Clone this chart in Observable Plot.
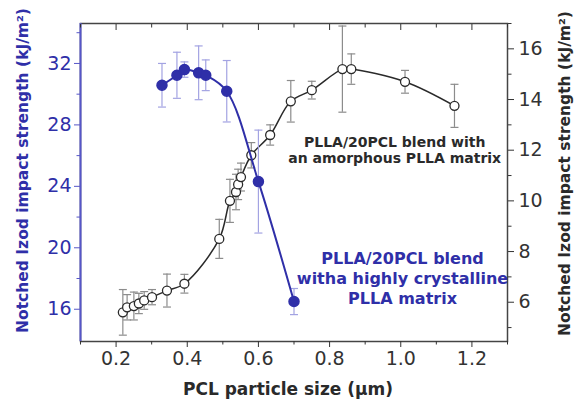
<!DOCTYPE html>
<html>
<head>
<meta charset="utf-8">
<script src="https://cdn.jsdelivr.net/npm/d3@7"></script>
<script src="https://cdn.jsdelivr.net/npm/@observablehq/plot@0.6"></script>
<style>
  html, body { margin: 0; padding: 0; background: #fff; }
  #chart { position: relative; width: 577px; height: 407px; }
  #chart svg { position: absolute; left: 0; top: 0; }
</style>
</head>
<body>
<div id="chart"></div>
<script>
// PLLA/20PCL blend, highly crystalline PLLA matrix (left axis)
const crystSize   = [0.329, 0.371, 0.392, 0.432, 0.452, 0.511, 0.600, 0.700];
const crystImpact = [30.58, 31.23, 31.6, 31.39, 31.23, 30.19, 24.31, 16.5];
const crystErr    = [1.42, 1.5, 0.5, 1.75, 1.0, 2.0, 3.35, 0.85];

// PLLA/20PCL blend, amorphous PLLA matrix (right axis)
const amorSize   = [0.219, 0.231, 0.250, 0.264, 0.279, 0.301, 0.343, 0.392, 0.490, 0.520, 0.537,
                    0.543, 0.551, 0.580, 0.633, 0.691, 0.750, 0.836, 0.861, 1.012, 1.151];
const amorImpact = [5.6, 5.8, 5.85, 5.95, 6.07, 6.2, 6.46, 6.73, 8.5, 10.0, 10.35,
                    10.65, 10.94, 11.8, 12.6, 13.93, 14.37, 15.2, 15.2, 14.7, 13.75];
const amorErr    = [0.9, 0.5, 0.55, 0.4, 0.35, 0.3, 0.65, 0.37, 0.77, 0.85, 0.7,
                    0.6, 0.55, 0.5, 0.4, 0.82, 0.35, 1.7, 0.6, 0.45, 0.85];

// Axis ticks
const xTicks     = [0.2, 0.4, 0.6, 0.8, 1.0, 1.2];
const xMinor     = [0.1, 0.3, 0.5, 0.7, 0.9, 1.1, 1.3];
const leftTicks  = [16, 20, 24, 28, 32];
const leftMinor  = [18, 22, 26, 30, 34];
const rightTicks = [6, 8, 10, 12, 14, 16];
const rightMinor = [5, 7, 9, 11, 13, 15, 17];

// Text
const xLabel = "PCL particle size (μm)";
const yLabel = "Notched Izod impact strength (kJ/m²)";
const amorNote = "PLLA/20PCL blend with\nan amorphous PLLA matrix";
const crystNote = "PLLA/20PCL blend\nwitha highly crystalline\nPLLA matrix";

const cryst = crystSize.map((x, i) => ({x, y: crystImpact[i], e: crystErr[i]}));
const amor = amorSize.map((x, i) => ({x, y: amorImpact[i], e: amorErr[i]}));

const W = 577, H = 407;
const frame = {marginLeft: 80, marginRight: 70, marginTop: 23, marginBottom: 66};
const xDomain = [0.1, 1.3];
const font = "'DejaVu Sans', sans-serif";
const blue = "#2f2fa8";
const blueAxis = "#5656c8";
const blueBar = "#a3a3e2";
const grayBar = "#8c8c8c";
const ink = "#2a2a2a";

// horizontal cap drawn at each end of an error bar
const cap = {draw(ctx) { ctx.moveTo(-4, 0); ctx.lineTo(4, 0); }};
const noText = () => "";

function errorBars(data, color) {
  return [
    Plot.ruleX(data, {x: "x", y1: d => d.y - d.e, y2: d => d.y + d.e, stroke: color, strokeWidth: 1.2}),
    Plot.dot(data, {x: "x", y: d => d.y - d.e, symbol: cap, stroke: color, strokeWidth: 1.2}),
    Plot.dot(data, {x: "x", y: d => d.y + d.e, symbol: cap, stroke: color, strokeWidth: 1.2})
  ];
}

const base = {
  width: W, height: H, ...frame,
  style: {background: "transparent", fontFamily: font, fontSize: "19px", overflow: "visible"},
  x: {domain: xDomain, axis: null}
};

// Amorphous-matrix series on the right-hand scale
const rightPlot = Plot.plot({
  ...base,
  y: {domain: [4.45, 17.0], axis: null},
  marks: [
    ...errorBars(amor, grayBar),
    Plot.line(amor, {x: "x", y: "y", curve: "catmull-rom", stroke: ink, strokeWidth: 1.5}),
    Plot.dot(amor, {x: "x", y: "y", r: 4.5, fill: "white", stroke: ink, strokeWidth: 1.3}),
    Plot.axisY(rightTicks, {anchor: "right", tickSize: 6, tickPadding: 5, color: "#333", fontSize: 19, label: null}),
    Plot.axisY(rightMinor, {anchor: "right", tickSize: 3.5, tickFormat: noText, color: "#333", label: null}),
    Plot.text([amorNote], {x: [0.983], y: [12.0], fontSize: 14, fontWeight: "bold", fill: ink, lineHeight: 1.15}),
    Plot.text([yLabel], {frameAnchor: "right", textAnchor: "middle", lineAnchor: "middle", dx: 58, dy: -9,
                         rotate: -90, fontSize: 15.5, fontWeight: "bold", fill: ink})
  ]
});

// Crystalline-matrix series on the left-hand scale, plus frame and x axis
const leftPlot = Plot.plot({
  ...base,
  y: {domain: [13.9, 34.6], axis: null},
  marks: [
    Plot.frame({stroke: "#444", strokeWidth: 1.5}),
    Plot.ruleX([xDomain[0]], {stroke: blueAxis, strokeWidth: 2}),
    Plot.axisX(xTicks, {anchor: "bottom", tickSize: 6, tickPadding: 4, color: "#333", fontSize: 19, label: null}),
    Plot.axisX(xMinor, {anchor: "bottom", tickSize: 3.5, tickFormat: noText, color: "#333", label: null}),
    Plot.axisX(xTicks, {anchor: "top", tickSize: 6, dy: 6, tickFormat: noText, color: "#333", label: null}),
    Plot.axisX(xMinor, {anchor: "top", tickSize: 3.5, dy: 3.5, tickFormat: noText, color: "#333", label: null}),
    Plot.axisY(leftTicks, {anchor: "left", tickSize: 6, tickPadding: 3, color: blueAxis, fill: blue, fontSize: 19, label: null}),
    Plot.axisY(leftMinor, {anchor: "left", tickSize: 3.5, tickFormat: noText, color: blueAxis, label: null}),
    ...errorBars(cryst, blueBar),
    Plot.line(cryst, {x: "x", y: "y", curve: "catmull-rom", stroke: blue, strokeWidth: 2}),
    Plot.dot(cryst, {x: "x", y: "y", r: 5, fill: blue, stroke: blue}),
    Plot.text([crystNote], {x: [1.005], y: [18.04], fontSize: 16, fontWeight: "bold", fill: blue, lineHeight: 1.25}),
    Plot.text([yLabel], {frameAnchor: "left", textAnchor: "middle", lineAnchor: "middle", dx: -57, dy: -12,
                         rotate: -90, fontSize: 15.5, fontWeight: "bold", fill: blue}),
    Plot.text([xLabel], {frameAnchor: "bottom", lineAnchor: "middle", dx: -6, dy: 48,
                         fontSize: 17, fontWeight: "bold", fill: ink})
  ]
});

const chart = document.getElementById("chart");
chart.append(rightPlot, leftPlot);
</script>
</body>
</html>
